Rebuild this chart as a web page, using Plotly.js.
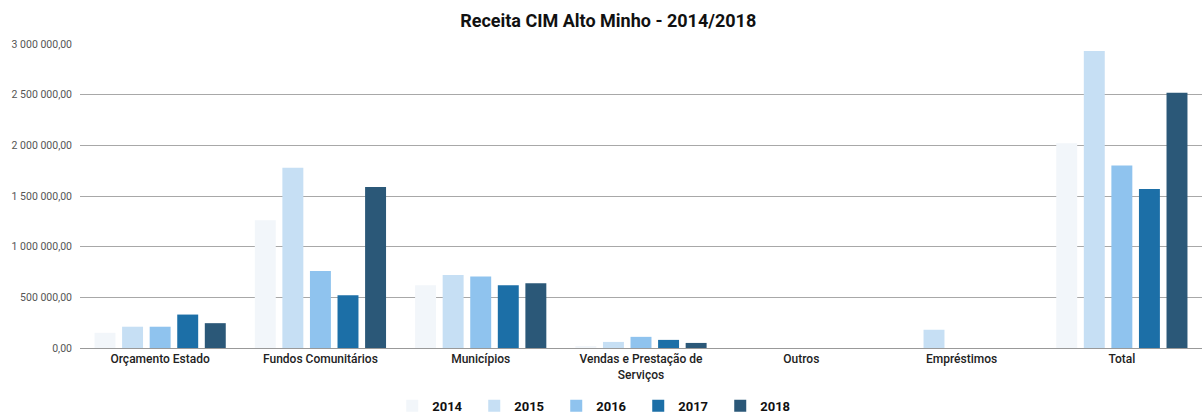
<!DOCTYPE html>
<html>
<head>
<meta charset="utf-8">
<script src="https://cdn.plot.ly/plotly-3.0.1.min.js"></script>
<style>
html, body { margin: 0; padding: 0; background: #fff; }
#chart { width: 1202px; height: 413px; }
</style>
</head>
<body>
<div id="chart"></div>
<script>
// categorias
let categorias = ["Orçamento Estado", "Fundos Comunitários", "Municípios",
  "Vendas e Prestação de<br>Serviços", "Outros", "Empréstimos", "Total"];

// valores por ano (euros)
let v2014 = [150000, 1260000, 620000, 20000, 0, 0, 2020000];
let v2015 = [210000, 1780000, 720000, 60000, 0, 180000, 2930000];
let v2016 = [210000, 760000, 705000, 110000, 0, 0, 1800000];
let v2017 = [330000, 520000, 620000, 80000, 0, 0, 1570000];
let v2018 = [245000, 1590000, 640000, 50000, 0, 0, 2520000];

let anos = ["2014", "2015", "2016", "2017", "2018"];
let cores = ["#f2f6fa", "#c6dff4", "#8fc3ee", "#1c6fa7", "#2b5878"];
let series = [v2014, v2015, v2016, v2017, v2018];

let traces = [];
for (let i = 0; i < anos.length; i++) {
  traces.push({
    type: "bar",
    name: anos[i],
    x: categorias,
    y: series[i],
    marker: { color: cores[i] },
    hoverinfo: "x+y+name"
  });
}

let fonte = "Roboto, 'Open Sans', sans-serif";

let layout = {
  width: 1202,
  height: 413,
  margin: { l: 80, r: 0, t: 44, b: 65, autoexpand: false },
  paper_bgcolor: "#ffffff",
  plot_bgcolor: "#ffffff",
  separators: ", ",
  barmode: "group",
  bargap: 0.14,
  bargroupgap: 0.24,
  title: {
    text: "<b>Receita CIM Alto Minho - 2014/2018</b>",
    x: 0.506,
    xanchor: "center",
    y: 0.95,
    yanchor: "middle",
    font: { family: fonte, size: 18, color: "#111" }
  },
  xaxis: {
    type: "category",
    automargin: false,
    tickfont: { family: fonte, size: 12, color: "#222", weight: 500 },
    showgrid: false,
    showline: true,
    linecolor: "#999",
    ticks: ""
  },
  yaxis: {
    range: [0, 3000000],
    automargin: false,
    dtick: 500000,
    tickformat: ",.2f",
    tickfont: { family: fonte, size: 10.5, color: "#555" },
    ticklabelstandoff: 7,
    gridcolor: "#a8a8a8",
    gridwidth: 1,
    zeroline: false,
    ticks: "",
    ticklen: 0
  },
  showlegend: true,
  legend: {
    orientation: "h",
    x: 0.461,
    xanchor: "center",
    y: -0.19,
    yanchor: "middle",
    font: { family: fonte, size: 13, color: "#111", weight: "bold" },
    itemwidth: 30,
    entrywidth: 37,
    tracegroupgap: 0
  }
};

Plotly.newPlot("chart", traces, layout, { displayModeBar: false });
</script>
</body>
</html>
